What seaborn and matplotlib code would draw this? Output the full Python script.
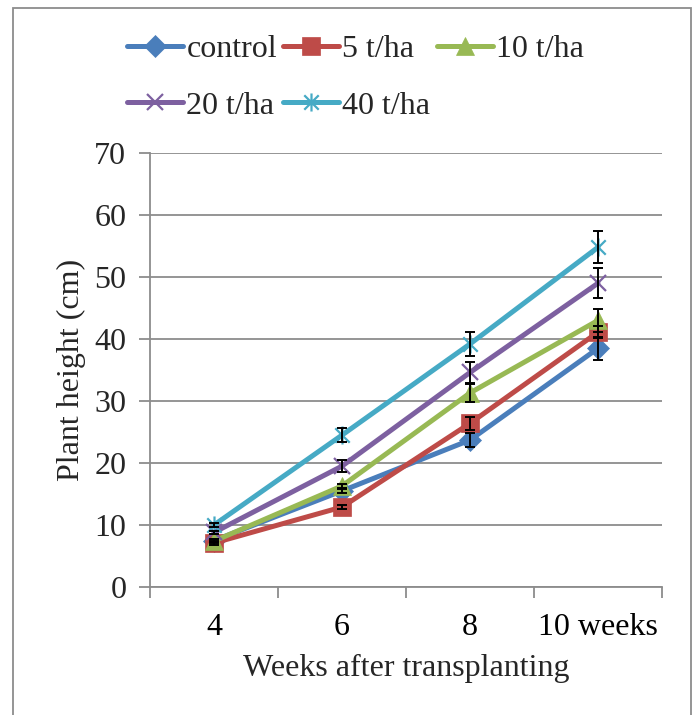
import matplotlib
matplotlib.use("Agg")
import matplotlib.pyplot as plt
import seaborn as sns
import pandas as pd
import numpy as np
from matplotlib.patches import Rectangle
from matplotlib.path import Path
from matplotlib.ticker import FixedLocator, NullFormatter

weeks = ["4", "6", "8", "10 weeks"]
treatments = ["control", "5 t/ha", "10 t/ha", "20 t/ha", "40 t/ha"]
control = [7.5, 15.5, 23.7, 38.5]
t5 = [7.1, 12.9, 26.4, 41.1]
t10 = [7.4, 16.3, 31.3, 43.0]
t20 = [8.8, 19.5, 34.6, 49.0]
t40 = [10.0, 24.5, 39.2, 54.8]
err_control = [0.3, 0.3, 1.1, 1.9]
err_t5 = [0.3, 0.3, 1.0, 1.0]
err_t10 = [0.3, 0.3, 1.5, 1.9]
err_t20 = [0.3, 1.0, 1.7, 2.4]
err_t40 = [0.3, 1.1, 2.0, 2.6]

values = [control, t5, t10, t20, t40]
errors = [err_control, err_t5, err_t10, err_t20, err_t40]
colors = ["#4A7EBB", "#BE4B48", "#98B954", "#7D60A0", "#46AAC5"]
star = Path([(-1, -1), (1, 1), (-1, 1), (1, -1), (0, -1.25), (0, 1.25)],
            [Path.MOVETO, Path.LINETO, Path.MOVETO, Path.LINETO, Path.MOVETO, Path.LINETO])
markers = ["D", "s", "^", "x", star]
msizes = [11, 13, 13, 12, 13]
medge = [0.5, 0.5, 0.5, 1.6, 1.6]

rows = []
for t, vals in zip(treatments, values):
    for i, v in enumerate(vals):
        rows.append({"treatment": t, "pos": i, "height": v})
df = pd.DataFrame(rows)

sns.set_theme(style="white")
plt.rcParams["font.family"] = ["Liberation Serif", "DejaVu Serif"]

FS = 23
fig = plt.figure(figsize=(6.95, 7.15), dpi=100)
ax = fig.add_axes([0.2158, 0.179, 0.9525 - 0.2158, 0.786 - 0.179])

handles = []
for k, t in enumerate(treatments):
    sub = df[df["treatment"] == t]
    sns.lineplot(data=sub, x="pos", y="height", ax=ax, color=colors[k],
                 linewidth=3.6, marker=markers[k], markersize=msizes[k],
                 markeredgecolor=colors[k], markeredgewidth=medge[k],
                 legend=False, zorder=3 + k, errorbar=None)
    ax.errorbar(sub["pos"], sub["height"], yerr=errors[k], fmt="none",
                ecolor="black", elinewidth=1.4, capsize=3.6, capthick=1.4, zorder=10)
    h, = ax.plot([], [], color=colors[k], linewidth=3.6, marker=markers[k],
                 markersize=msizes[k], markeredgecolor=colors[k],
                 markeredgewidth=medge[k])
    handles.append(h)

ax.set_xlim(-0.5, 3.5)
ax.set_ylim(0, 70)
ax.set_yticks(np.arange(0, 71, 10))
ax.set_xticks(range(len(weeks)))
ax.set_xticklabels(weeks)
ax.xaxis.set_minor_locator(FixedLocator([-0.5, 0.5, 1.5, 2.5, 3.5]))
ax.xaxis.set_minor_formatter(NullFormatter())
ax.tick_params(axis="x", which="major", length=0, labelsize=FS, pad=19, colors="black")
ax.tick_params(axis="x", which="minor", length=8, width=1.3, color="#8C8C8C", bottom=True)
ax.tick_params(axis="y", which="major", length=8, width=1.3, color="#8C8C8C",
               labelsize=FS, pad=9, left=True)
ax.grid(axis="y", color="#8C8C8C", linewidth=1.3)
ax.grid(axis="x", visible=False)
ax.set_axisbelow(True)
for s in ["top", "right"]:
    ax.spines[s].set_visible(False)
for s in ["left", "bottom"]:
    ax.spines[s].set_color("#8C8C8C")
    ax.spines[s].set_linewidth(1.3)

ax.set_xlabel("Weeks after transplanting", fontsize=FS, labelpad=8)
ax.set_ylabel("Plant height (cm)", fontsize=FS, labelpad=6)

order = [0, 3, 1, 4, 2]
fig.legend([handles[i] for i in order], [treatments[i] for i in order],
           loc="upper left", bbox_to_anchor=(0.183, 0.952), ncol=3, frameon=False,
           fontsize=FS, handlelength=1.75, handletextpad=0.1, columnspacing=0.2,
           labelspacing=0.86, borderaxespad=0, borderpad=0)

fig.patches.append(Rectangle((0.0187, -0.01), 0.9942 - 0.0187, 0.9888 + 0.01,
                             transform=fig.transFigure, fill=False,
                             edgecolor="#8C8C8C", linewidth=1.3))

fig.savefig("out.png", dpi=100)
